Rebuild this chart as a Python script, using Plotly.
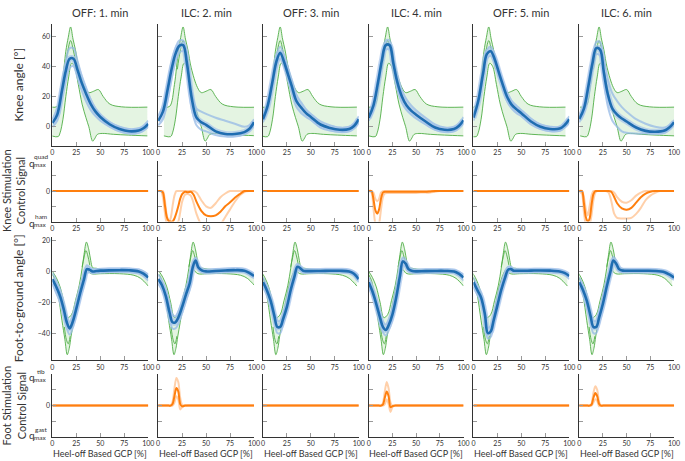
import plotly.graph_objects as go
from plotly.subplots import make_subplots

W, H = 685, 461
FONT = "Lato"

COL_TITLES = ["OFF: 1. min", "ILC: 2. min", "OFF: 3. min", "ILC: 4. min", "OFF: 5. min", "ILC: 6. min"]
X_TICKS = [0, 25, 50, 75, 100]
X_TICK_TEXT = ["0", "25", "50", "75", "100"]
KNEE_TICKS = [0, 20, 40, 60]
KNEE_TICK_TEXT = ["0", "20", "40", "60"]
FOOT_TICKS = [-40, -20, 0, 20]
FOOT_TICK_TEXT = ["\u221240", "\u221220", "0", "20"]
ROW_TITLES = ["Knee angle [°]", "Knee Stimulation<br>Control Signal",
              "Foot-to-ground angle [°]", "Foot Stimulation<br>Control Signal"]
X_TITLE = "Heel-off Based GCP [%]"

# ---------------- knee angle (mean, +sd, -sd) ----------------
KX = [0, 5, 10, 14, 18, 22, 26, 30, 35, 40, 45, 50, 60, 70, 80, 90, 95, 100]
KNEE_MEAN = [
    [2.5, 8, 24, 37, 45, 45, 38, 30, 22, 15, 10, 6.5, 1.5, -1.5, -3, -2.5, -1, 2],
    [4, 10, 25, 38, 48, 53.5, 54, 42, 19, 6, 3, 1.3, -3, -4.8, -4.8, -3.5, -1.5, 3],
    [5, 14, 30, 43, 49, 43, 35, 27, 17, 12.7, 9, 6.5, 1.5, -0.8, -2, -1.5, 0.5, 5],
    [6, 14, 30, 44, 54, 54, 42, 30, 20, 14, 10.5, 8, 3.5, -0.5, -2, -1.5, 0.5, 4.4],
    [6, 17, 35, 48, 50, 45, 37, 29, 20, 14.5, 11.5, 9, 3.5, 0, -1.5, -1.2, 1, 5],
    [5, 12, 28, 42, 52, 51, 36, 22, 12, 8, 5.5, 3.5, -0.5, -2.7, -3.3, -2.5, -0.5, 3],
]
KNEE_UP = [
    [5, 12, 30, 43, 52, 52, 44, 35, 26, 18, 12, 8, 3, 0, -1.5, -1, 0.5, 4],
    [7, 14, 30, 43, 52, 57, 57, 48, 24, 12, 10, 8.5, 6, 4, 2, 0, 1, 5],
    [7, 17, 34, 47, 53, 47, 39, 31, 21, 16, 11.5, 8.5, 3.5, 1, -0.5, 0, 2, 7],
    [8, 17, 33, 47, 57, 57, 46, 34, 24, 18, 14, 11, 6, 1.5, -0.5, 0, 2, 6.5],
    [8, 20, 38, 51, 53, 48, 40, 32, 23, 17, 14, 11, 5.5, 1.5, 0, 0, 2.5, 7],
    [7, 15, 32, 46, 56, 56, 44, 32, 22, 17, 13, 10, 5, 2, 0, -0.5, 1, 4.5],
]
KNEE_LO = [
    [0, 4, 18, 31, 39, 40, 33, 25, 17, 11, 7, 4, 0, -3, -4.5, -4, -2.5, 0],
    [1, 5, 18, 32, 43, 49, 50, 36, 12, 1, -2, -3, -5.5, -6.5, -6.5, -5, -3, 1],
    [3, 11, 26, 39, 45, 40, 32, 23, 13, 9, 6.5, 4.5, -0.5, -2.5, -3.5, -3, -1, 3],
    [4, 11, 27, 41, 51, 51, 39, 26, 16, 11, 8, 5.5, 1.5, -2, -3.5, -3, -1, 2.5],
    [4, 14, 32, 45, 47, 42, 34, 26, 17, 12, 9, 7, 1.5, -1.5, -3, -2.7, -0.5, 3],
    [3, 9, 24, 38, 48, 47, 30, 14, 4, 0, -3, -4, -4.5, -4.5, -4.5, -4, -2, 1.5],
]
# normative knee band (green), drawn per column with its own peak timing
KNEE_NORM_UX = [0, 6, 11, 15, 17.5, 20, 22.5, 25, 28.5, 35, 39, 44, 49, 54, 61, 73, 100]
KNEE_NORM_UY = [13, 13.5, 28, 50, 59, 66, 58, 51, 39, 26, 22.6, 23.5, 24.6, 20, 15, 13.2, 13]
KNEE_NORM_LX = [0, 7, 9, 12, 15, 18, 21, 24, 28, 32, 36, 39, 43, 45, 48, 53, 65, 80, 100]
KNEE_NORM_LY = [-6, -6.5, -4, 5, 20, 33, 42, 40, 28, 15, 6, 0, -9.5, -8, -5, -4.4, -5, -5.5, -6]
KNEE_NORM_IX = [14, 17, 20, 23, 27]
KNEE_NORM_IY = [38, 50, 57, 50, 38]
KNEE_NORM_SHIFT = [-1, 6, -2, 0, -4, 1]

# ---------------- foot-to-ground angle ----------------
FX = [0, 4, 8, 12, 15, 18, 21, 25, 29, 33, 36, 39, 42, 46, 50, 60, 70, 80, 90, 95, 100]
FOOT_MEAN = [
    [-5, -10, -16, -25, -33, -37, -33, -24, -14, -5, 1.5, 1, 0, 0.3, 0.5, 0.7, 0.8, 0.7, 0, -1.5, -4],
    [-5, -9, -16, -27, -33, -33, -30, -23, -15, -7.5, 2.5, 7, 2.5, 0.5, 0, 0.3, 0.6, 0.8, 0.5, -1, -3],
    [-7, -12, -19, -29, -36, -36, -31, -23, -12, -3, 3, 2, 0.4, 0.2, 0.2, 0.3, 0.4, 0.4, 0, -1.5, -5],
    [-7, -13, -21, -30, -36, -38, -35, -28, -17, -3, 6.5, 5, 1.5, 0.3, 0, 0.2, 0.3, 0.3, 0, -1.5, -4],
    [-7, -12, -17, -28, -40, -39, -32, -22, -12, -4, 1, 1.5, 0.5, 0.4, 0.4, 0.5, 0.6, 0.5, 0, -1, -3],
    [-7, -12, -19, -29, -36, -36, -30, -21, -10, 0, 7, 5, 1.5, 0.5, 0.4, 0.4, 0.4, 0.3, -0.5, -2, -4],
]
FOOT_UP = [
    [-1, -6, -12, -21, -29, -33, -29, -20, -10, -1, 4, 2.5, 1.5, 1.5, 1.5, 1.7, 1.8, 1.8, 1.2, 0, -2],
    [-2, -6, -12, -23, -28, -29, -26, -19, -11, -3.5, 5, 9, 4, 1.5, 1, 1.5, 1.8, 2, 1.5, 0, -1.5],
    [-4, -9, -15.5, -25.5, -32, -32, -27.5, -19.5, -8.5, 0, 5, 3.5, 1.5, 1.2, 1.2, 1.3, 1.4, 1.4, 1, -0.3, -3],
    [-4, -10, -17.5, -26.5, -32.5, -34.5, -31.5, -24.5, -13.5, 0.5, 9, 7.5, 3, 1.3, 1, 1.2, 1.3, 1.3, 1, -0.3, -2],
    [-4, -9, -13.5, -24.5, -36.5, -35.5, -28.5, -18.5, -8.5, -1, 3, 3, 1.5, 1.4, 1.4, 1.5, 1.6, 1.5, 1, 0, -1.5],
    [-4, -9, -15, -25, -32, -32, -26, -17, -6, 3, 9.5, 7, 3, 1.5, 1.4, 1.4, 1.4, 1.3, 0.5, -0.8, -2.5],
]
FOOT_LO = [
    [-8, -14, -20, -29, -37, -41, -37, -28, -18, -9, -1, -0.5, -1, -0.7, -0.5, -0.3, -0.2, -0.4, -1.2, -3, -6],
    [-8, -12, -20, -31, -37, -37, -34, -27, -19, -11.5, -1, 4.5, 1, -0.5, -1, -0.8, -0.5, -0.3, -0.5, -2, -4.5],
    [-10, -15, -22.5, -32.5, -40, -40, -34.5, -26.5, -15.5, -6, 1, 0.5, -0.7, -0.8, -0.8, -0.7, -0.6, -0.6, -1, -2.7, -7],
    [-10, -16, -24.5, -33.5, -39.5, -41.5, -38.5, -31.5, -20.5, -6.5, 4, 3, 0, -0.7, -1, -0.8, -0.7, -0.7, -1, -2.7, -6],
    [-10, -15, -20.5, -31.5, -43.5, -42.5, -35.5, -25.5, -15.5, -7, -1, 0, -0.5, -0.6, -0.6, -0.5, -0.4, -0.5, -1, -2, -5],
    [-10, -15, -23, -33, -40, -40, -34, -25, -14, -3, 4.5, 3, 0, -0.5, -0.6, -0.6, -0.6, -0.7, -1.5, -3.2, -5.5],
]
FOOT_NORM_UX = [0, 4, 8, 12, 16, 20, 24, 28, 31, 33, 35.5, 38, 40, 42, 46, 50, 60, 75, 88, 95, 100]
FOOT_NORM_UY = [0, -4, -10, -20, -30, -28, -19, -9, 2, 11, 19, 14, 7, 2.5, 2, 1.5, 1.2, 1.2, 0.8, -0.5, -3.5]
FOOT_NORM_LX = [0, 3, 6, 10, 13, 15.5, 17.5, 19.5, 22, 25, 29, 33, 36, 39, 42, 50, 70, 85, 92, 100]
FOOT_NORM_LY = [-2, -6, -15, -32, -44, -54, -50, -42, -33, -22, -10, -2, 1, -1, -1.7, -1.5, -1.5, -2.5, -4.5, -9.5]
FOOT_NORM_IUX = [31, 33, 35, 37, 39]
FOOT_NORM_IUY = [3, 9, 13.5, 10, 4]
FOOT_NORM_ILX = [12.5, 14.5, 16.5, 18.5]
FOOT_NORM_ILY = [-36, -44, -47, -42]
FOOT_NORM_SHIFT = [0, 1, -2, 0, -2, -2]

# ---------------- stimulation control signals ----------------
SX = [0, 3, 5, 7, 9, 11, 13, 15, 17, 19, 21, 23, 25, 28, 31, 34, 37, 40, 45, 50, 55, 60, 65, 70, 75, 80, 85, 90, 95, 100]
ZERO = [0] * 30
KSTIM_MEAN = [
    ZERO,
    [0, 0, -0.05, -0.45, -0.85, -0.98, -1.0, -1.0, -0.9, -0.72, -0.5, -0.25, -0.1, -0.02, -0.04, -0.02, -0.12, -0.35, -0.65, -0.8, -0.83, -0.8, -0.68, -0.5, -0.37, -0.22, -0.1, 0, 0, 0],
    ZERO,
    [0, 0, -0.25, -0.62, -0.74, -0.6, -0.25, -0.05, -0.02, -0.02, -0.02, -0.02, -0.02, -0.02, -0.02, -0.02, -0.02, -0.02, -0.02, -0.02, -0.02, -0.02, -0.01, 0, 0, 0, 0, 0, 0, 0],
    ZERO,
    [0, 0, -0.4, -0.85, -1.0, -0.9, -0.45, -0.1, 0, 0, 0, 0, 0, 0, 0, -0.03, -0.2, -0.4, -0.57, -0.61, -0.55, -0.38, -0.2, -0.08, -0.02, 0, 0, 0, 0, 0],
]
KSTIM_UP = [
    ZERO,
    [0, 0, 0, -0.3, -0.8, -1.0, -0.9, -0.5, -0.15, 0, 0, 0, 0, 0, 0, 0, 0, -0.05, -0.3, -0.5, -0.55, -0.4, -0.2, -0.08, 0, 0, 0, 0, 0, 0],
    ZERO,
    [0, 0, -0.05, -0.25, -0.33, -0.25, -0.05, 0, 0, 0, 0, 0, 0, 0, 0, 0, 0, 0, 0, 0, 0, 0, 0, 0, 0, 0, 0, 0, 0, 0],
    ZERO,
    [0, 0, -0.2, -0.6, -0.8, -0.5, -0.15, 0, 0, 0, 0, 0, 0, 0, 0, 0, -0.05, -0.2, -0.35, -0.38, -0.3, -0.15, -0.05, 0, 0, 0, 0, 0, 0, 0],
]
KSTIM_LO = [
    ZERO,
    [0, 0, -0.2, -0.7, -1.05, -1.1, -1.1, -1.1, -1.1, -1.05, -1.0, -0.7, -0.35, -0.12, -0.1, -0.15, -0.4, -0.75, -1.1, -1.2, -1.2, -1.2, -1.1, -0.85, -0.6, -0.35, -0.15, -0.03, 0, 0],
    ZERO,
    [0, -0.05, -0.55, -1.05, -1.15, -1.05, -0.6, -0.2, -0.08, -0.06, -0.06, -0.06, -0.06, -0.06, -0.06, -0.06, -0.06, -0.06, -0.06, -0.06, -0.05, -0.05, -0.05, -0.02, 0, 0, 0, 0, 0, 0],
    ZERO,
    [0, -0.1, -0.7, -1.1, -1.2, -1.1, -0.8, -0.3, -0.05, 0, 0, 0, 0, 0, -0.05, -0.35, -0.75, -0.88, -0.9, -0.9, -0.88, -0.75, -0.55, -0.3, -0.15, -0.06, 0, 0, 0, 0],
]
FSTIM_MEAN = [
    ZERO,
    [0, 0, 0, 0, 0, 0, 0, 0.05, 0.3, 0.56, 0.45, 0.05, -0.02, 0, 0, 0, 0, 0, 0, 0, 0, 0, 0, 0, 0, 0, 0, 0, 0, 0],
    ZERO,
    [0, 0, 0, 0, 0, 0, 0, 0.03, 0.25, 0.45, 0.3, -0.05, -0.02, 0, 0, 0, 0, 0, 0, 0, 0, 0, 0, 0, 0, 0, 0, 0, 0, 0],
    ZERO,
    [0, 0, 0, 0, 0, 0, 0.03, 0.25, 0.4, 0.3, 0.05, 0, 0, 0, 0, 0, 0, 0, 0, 0, 0, 0, 0, 0, 0, 0, 0, 0, 0, 0],
]
FSTIM_UP = [
    ZERO,
    [0, 0, 0, 0, 0, 0, 0, 0.12, 0.55, 0.88, 0.75, 0.25, 0.03, 0, 0, 0, 0, 0, 0, 0, 0, 0, 0, 0, 0, 0, 0, 0, 0, 0],
    ZERO,
    [0, 0, 0, 0, 0, 0, 0, 0.08, 0.45, 0.75, 0.55, 0.1, 0, 0, 0, 0, 0, 0, 0, 0, 0, 0, 0, 0, 0, 0, 0, 0, 0, 0],
    ZERO,
    [0, 0, 0, 0, 0, 0, 0.06, 0.4, 0.62, 0.5, 0.12, 0, 0, 0, 0, 0, 0, 0, 0, 0, 0, 0, 0, 0, 0, 0, 0, 0, 0, 0],
]
FSTIM_LO = [
    ZERO,
    [0, 0, 0, 0, 0, 0, 0, 0, 0.1, 0.3, 0.2, -0.12, -0.05, 0, 0, 0, 0, 0, 0, 0, 0, 0, 0, 0, 0, 0, 0, 0, 0, 0],
    ZERO,
    [0, 0, 0, 0, 0, 0, 0, 0, 0.05, 0.2, 0.05, -0.2, -0.05, 0, 0, 0, 0, 0, 0, 0, 0, 0, 0, 0, 0, 0, 0, 0, 0, 0],
    ZERO,
    [0, 0, 0, 0, 0, 0, 0, 0.1, 0.2, 0.15, -0.02, 0, 0, 0, 0, 0, 0, 0, 0, 0, 0, 0, 0, 0, 0, 0, 0, 0, 0, 0],
]

# ---------------- styles ----------------
DARK_BLUE = "#1f6db1"
LIGHT_BLUE = "rgba(150,185,230,0.75)"
GLOW_BLUE = "rgba(165,195,235,0.7)"
GREEN = "#4fae45"
GREEN_FILL = "rgba(120,200,110,0.2)"
ORANGE = "#ff7f0e"
LIGHT_ORANGE = "rgba(255,170,100,0.55)"
AXIS_COLOR = "#333333"
TICK_COLOR = "#999999"
TEXT_COLOR = "#333333"

# layout in pixels
COL_X = [(51, 148), (158, 255), (264, 361), (371, 467), (477, 574), (584, 680)]
ROW_Y = [(23, 145), (160, 221), (237, 360), (374, 437)]
Y_RANGES = [[-12.5, 68], [-1, 1], [-57.6, 22], [-1, 1]]

fig = make_subplots(rows=4, cols=6)


def line(x, y, r, c, color, width, fill=None, fillcolor=None, smooth=1.0):
    fig.add_trace(go.Scatter(x=x, y=y, mode="lines",
                             line=dict(color=color, width=width, shape="spline", smoothing=smooth),
                             fill=fill, fillcolor=fillcolor, hoverinfo="skip", showlegend=False),
                  row=r, col=c)


for c in range(6):
    cc = c + 1
    # knee angle
    ks = KNEE_NORM_SHIFT[c]
    line([v + ks for v in KNEE_NORM_LX], KNEE_NORM_LY, 1, cc, GREEN, 0.9)
    line([v + ks for v in KNEE_NORM_UX], KNEE_NORM_UY, 1, cc, GREEN, 0.9, fill="tonexty", fillcolor=GREEN_FILL)
    line([v + ks for v in KNEE_NORM_IX], KNEE_NORM_IY, 1, cc, GREEN, 0.9)
    line(KX, KNEE_UP[c], 1, cc, LIGHT_BLUE, 2)
    line(KX, KNEE_LO[c], 1, cc, LIGHT_BLUE, 2)
    line(KX, KNEE_MEAN[c], 1, cc, GLOW_BLUE, 6)
    line(KX, KNEE_MEAN[c], 1, cc, DARK_BLUE, 2.6)
    # knee stimulation
    line(SX, KSTIM_UP[c], 2, cc, LIGHT_ORANGE, 2, smooth=0.8)
    line(SX, KSTIM_LO[c], 2, cc, LIGHT_ORANGE, 2, smooth=0.8)
    line(SX, KSTIM_MEAN[c], 2, cc, ORANGE, 2, smooth=0.8)
    # foot angle
    fs = FOOT_NORM_SHIFT[c]
    line([v + fs for v in FOOT_NORM_LX], FOOT_NORM_LY, 3, cc, GREEN, 0.9)
    line([v + fs for v in FOOT_NORM_UX], FOOT_NORM_UY, 3, cc, GREEN, 0.9, fill="tonexty", fillcolor=GREEN_FILL)
    line([v + fs for v in FOOT_NORM_IUX], FOOT_NORM_IUY, 3, cc, GREEN, 0.9)
    line([v + fs for v in FOOT_NORM_ILX], FOOT_NORM_ILY, 3, cc, GREEN, 0.9)
    line(FX, FOOT_UP[c], 3, cc, LIGHT_BLUE, 2)
    line(FX, FOOT_LO[c], 3, cc, LIGHT_BLUE, 2)
    line(FX, FOOT_MEAN[c], 3, cc, GLOW_BLUE, 6)
    line(FX, FOOT_MEAN[c], 3, cc, DARK_BLUE, 2.6)
    # foot stimulation
    line(SX, FSTIM_UP[c], 4, cc, LIGHT_ORANGE, 2, smooth=0.8)
    line(SX, FSTIM_LO[c], 4, cc, LIGHT_ORANGE, 2, smooth=0.8)
    line(SX, FSTIM_MEAN[c], 4, cc, ORANGE, 2, smooth=0.8)

tickfont = dict(family=FONT, size=7, color=TEXT_COLOR)
for r in range(4):
    for c in range(6):
        x0, x1 = COL_X[c]
        y0, y1 = ROW_Y[r]
        fig.update_xaxes(row=r + 1, col=c + 1, domain=[x0 / W, x1 / W], range=[0, 100],
                         tickvals=X_TICKS, ticktext=X_TICK_TEXT, ticks="inside", ticklen=4,
                         tickcolor=TICK_COLOR, showline=True, linecolor=AXIS_COLOR, linewidth=1,
                         showgrid=False, zeroline=False, tickfont=tickfont, fixedrange=True)
        if r == 0:
            tv, tt = KNEE_TICKS, KNEE_TICK_TEXT
        elif r == 2:
            tv, tt = FOOT_TICKS, FOOT_TICK_TEXT
        else:
            tv, tt = [-0.5, 0, 0.5], ["", "0", ""]
        fig.update_yaxes(row=r + 1, col=c + 1, domain=[1 - y1 / H, 1 - y0 / H], range=Y_RANGES[r],
                         tickvals=tv, ticktext=tt, showticklabels=(c == 0), ticks="inside", ticklen=4,
                         tickcolor=TICK_COLOR, showline=True, linecolor=AXIS_COLOR, linewidth=1,
                         showgrid=False, zeroline=False, tickfont=tickfont, fixedrange=True)

ann = []


def px_ann(text, x, y, size, angle=0, xanchor="center"):
    ann.append(dict(text=text, x=x / W, y=1 - y / H, xref="paper", yref="paper", showarrow=False,
                    xanchor=xanchor, yanchor="middle", textangle=angle,
                    font=dict(family=FONT, size=size, color=TEXT_COLOR)))


for c in range(6):
    x0, x1 = COL_X[c]
    px_ann(COL_TITLES[c], (x0 + x1) / 2, 12, 11)
    px_ann(X_TITLE, (x0 + x1) / 2, 453, 9)

px_ann(ROW_TITLES[0], 17, 84, 12, angle=-90)
px_ann(ROW_TITLES[1], 11.5, 190, 11, angle=-90)
px_ann(ROW_TITLES[2], 17, 298, 12, angle=-90)
px_ann(ROW_TITLES[3], 11.5, 405, 11, angle=-90)

# q_max labels of the stimulation axes
Q_LABELS = [("quad", 162), ("ham", 222), ("tib", 377), ("gast", 435)]
for sup, y in Q_LABELS:
    px_ann("q", 30, y, 10)
    px_ann(sup, 39, y - 6, 6.5)
    px_ann("max", 39, y + 2, 6.5)

fig.update_layout(width=W, height=H, margin=dict(l=0, r=0, t=0, b=0),
                  paper_bgcolor="white", plot_bgcolor="white", annotations=ann,
                  font=dict(family=FONT, color=TEXT_COLOR), showlegend=False)

fig.write_html("out.html", config={"displayModeBar": False},
               post_script="document.body.style.margin='0px';document.body.style.padding='0px';")
